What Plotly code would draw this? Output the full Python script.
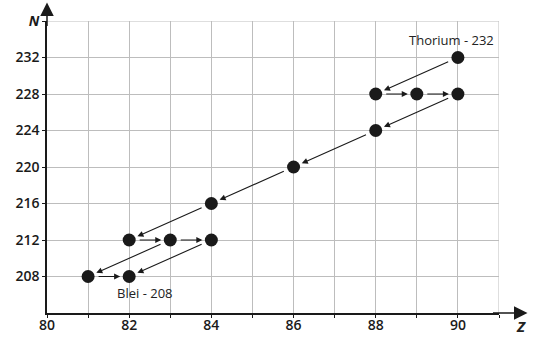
import plotly.graph_objects as go

# Nuclides of the thorium-232 decay chain (Z = proton number, N = nucleon number)
Z = [90, 88, 89, 90, 88, 86, 84, 82, 83, 84, 81, 82]
N = [232, 228, 228, 228, 224, 220, 216, 212, 212, 212, 208, 208]
# decays as (from index, to index)
decays = [(0, 1), (1, 2), (2, 3), (3, 4), (4, 5), (5, 6), (6, 7),
          (7, 8), (8, 9), (8, 10), (9, 11), (10, 11)]
x_ticks = [80, 82, 84, 86, 88, 90]
y_ticks = [208, 212, 216, 220, 224, 228, 232, 236]
y_ticktext = ["208", "212", "216", "220", "224", "228", "232", "<b><i>N</i></b>"]
x_range = [80, 91]
y_range = [204, 236]

INK = "#1a1a1a"
GRID = "#bdbdbd"
FONT = "Open Sans"

fig = go.Figure()
fig.add_trace(go.Scatter(x=Z, y=N, mode="markers",
                         marker=dict(size=13, color=INK), hoverinfo="skip"))

ann = []
for a, b in decays:
    ann.append(dict(x=Z[b], y=N[b], ax=Z[a], ay=N[a], xref="x", yref="y",
                    axref="x", ayref="y", showarrow=True, text="",
                    arrowhead=2, arrowsize=1.1, arrowwidth=1.1, arrowcolor=INK,
                    standoff=9, startstandoff=9))

ann.append(dict(x=Z[0], y=N[0], xref="x", yref="y", text="Thorium - 232",
                showarrow=False, yshift=18, xshift=-6,
                font=dict(family=FONT, size=13, color="#222")))
ann.append(dict(x=Z[11], y=N[11], xref="x", yref="y", text="Blei - 208",
                showarrow=False, yshift=-16, xshift=16,
                font=dict(family=FONT, size=13, color="#222")))

# axis arrows
ann.append(dict(x=1.063, y=0, xref="paper", yref="paper", ax=-36, ay=0,
                showarrow=True, text="", arrowhead=2, arrowsize=1.8,
                arrowwidth=1.5, arrowcolor=INK))
ann.append(dict(x=0, y=1.063, xref="paper", yref="paper", ax=0, ay=25,
                showarrow=True, text="", arrowhead=2, arrowsize=1.8,
                arrowwidth=1.5, arrowcolor=INK))
ann.append(dict(x=1.048, y=-0.046, xref="paper", yref="paper",
                xanchor="center", yanchor="middle",
                text="<b><i>Z</i></b>", showarrow=False,
                font=dict(family=FONT, size=15, color="#222")))

# border grid lines at the far edges of the grid
shapes = [
    dict(type="line", xref="x", yref="y", x0=x_range[1], x1=x_range[1],
         y0=y_range[0], y1=y_range[1], line=dict(color=GRID, width=1), layer="below"),
    dict(type="line", xref="x", yref="y", x0=x_range[0], x1=x_range[1],
         y0=y_range[1], y1=y_range[1], line=dict(color=GRID, width=1), layer="below"),
]

tickfont = dict(family=FONT, size=14, color="#1a1a1a", weight=600)

fig.update_layout(
    width=558, height=340,
    margin=dict(l=47, r=59, t=21, b=27),
    paper_bgcolor="white", plot_bgcolor="white",
    showlegend=False,
    font=dict(family=FONT, size=14, color="#1a1a1a"),
    annotations=ann,
    shapes=shapes,
    xaxis=dict(range=x_range, tickvals=x_ticks, showgrid=True,
               gridcolor=GRID, gridwidth=1, zeroline=False,
               showline=True, linecolor=INK, linewidth=1.5,
               ticks="outside", ticklen=3, tickcolor=INK, tickfont=tickfont,
               ticklabelstandoff=-5, automargin=False,
               minor=dict(dtick=1, tick0=80, showgrid=True, gridcolor=GRID,
                          gridwidth=1, ticks="outside", ticklen=3,
                          tickcolor=INK),
               fixedrange=True),
    yaxis=dict(range=y_range, tickvals=y_ticks, ticktext=y_ticktext,
               showgrid=True, gridcolor=GRID, gridwidth=1, zeroline=False,
               showline=True, linecolor=INK, linewidth=1.5,
               ticks="outside", ticklen=3, tickcolor=INK, tickfont=tickfont,
               automargin=False, fixedrange=True),
)

fig.write_html("out.html")
